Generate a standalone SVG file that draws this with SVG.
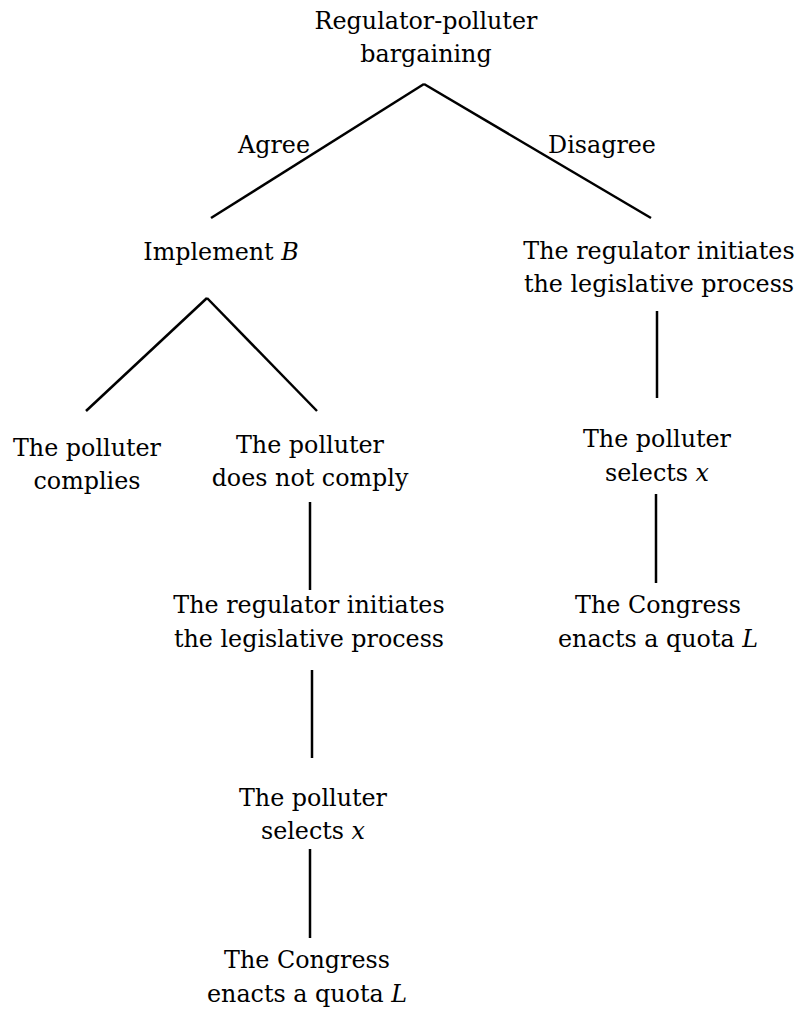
<svg xmlns="http://www.w3.org/2000/svg" width="798" height="1012" viewBox="0 0 798 1012">
<style>
text{font-family:'DejaVu Serif','Liberation Serif',serif;font-size:23.8px;fill:#000;text-anchor:middle}
.m{font-style:italic}
.c line{stroke:#000;stroke-width:2.5;stroke-linecap:butt}
</style>
<rect width="798" height="1012" fill="#fff"/>
<g class="c" id="connectors">
<line x1="424" y1="84" x2="211" y2="218"/>
<line x1="424" y1="84" x2="651" y2="218"/>
<line x1="207" y1="298" x2="86" y2="411"/>
<line x1="207" y1="298" x2="317" y2="411"/>
<line x1="310" y1="502" x2="310" y2="590"/>
<line x1="312" y1="670" x2="312" y2="758"/>
<line x1="310" y1="849" x2="310" y2="938"/>
<line x1="657" y1="311" x2="657" y2="398"/>
<line x1="656" y1="494" x2="656" y2="583"/>
</g>
<g id="edge-labels">
<text x="274" y="153">Agree</text>
<text x="602" y="153">Disagree</text>
</g>
<g id="n-root"><text x="426" y="29">Regulator-polluter</text><text x="426" y="62">bargaining</text></g>
<g id="n-implement"><text x="221" y="260">Implement <tspan class="m">B</tspan></text></g>
<g id="n-complies"><text x="87" y="456">The polluter</text><text x="87" y="489">complies</text></g>
<g id="n-notcomply"><text x="310" y="453">The polluter</text><text x="310" y="486">does not comply</text></g>
<g id="n-left-reg"><text x="309" y="613">The regulator initiates</text><text x="309" y="647">the legislative process</text></g>
<g id="n-left-sel"><text x="313" y="806">The polluter</text><text x="313" y="839">selects <tspan class="m">x</tspan></text></g>
<g id="n-left-cong"><text x="307" y="968">The Congress</text><text x="307" y="1002">enacts a quota <tspan class="m">L</tspan></text></g>
<g id="n-right-reg"><text x="659" y="259">The regulator initiates</text><text x="659" y="292">the legislative process</text></g>
<g id="n-right-sel"><text x="657" y="447">The polluter</text><text x="657" y="481">selects <tspan class="m">x</tspan></text></g>
<g id="n-right-cong"><text x="658" y="613">The Congress</text><text x="658" y="647">enacts a quota <tspan class="m">L</tspan></text></g>
</svg>
